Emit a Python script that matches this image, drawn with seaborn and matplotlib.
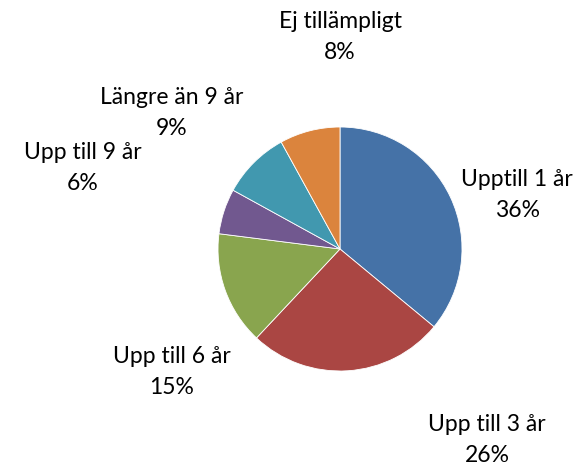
import numpy as np
import matplotlib
matplotlib.use("Agg")
import matplotlib.pyplot as plt
import seaborn as sns

# Data
categories = ['Upptill 1 år', 'Upp till 3 år', 'Upp till 6 år',
              'Upp till 9 år', 'Längre än 9 år', 'Ej tillämpligt']
shares = [36, 26, 15, 6, 9, 8]

# Layout (label anchors in pie-radius units, Excel-style manual placement)
label_xy = [(1.451, 0.443), (1.205, -1.566), (-1.377, -1.008),
            (-2.107, 0.664), (-1.377, 1.115), (0.0, 1.738)]
colors = ['#4572A7', '#AA4643', '#89A54E', '#71588F', '#4198AF', '#DB843D']

sns.set_theme(style='white')
plt.rcParams['font.family'] = ['Lato', 'DejaVu Sans']

fig = plt.figure(figsize=(5.8, 4.67), dpi=100)
ax = fig.add_axes([0, 0, 1, 1])

wedges, texts = ax.pie(shares, labels=categories, colors=colors,
                       startangle=90, counterclock=False, radius=1.0,
                       wedgeprops=dict(edgecolor='white', linewidth=0.6),
                       textprops=dict(fontsize=16.5, color='black'))

total = sum(shares)
for t, name, val, xy in zip(texts, categories, shares, label_xy):
    t.set_text(f'{name}\n{round(100 * val / total)}%')
    t.set_position(xy)
    t.set_ha('center')
    t.set_va('center')
    t.set_multialignment('center')
    t.set_linespacing(1.55)

r_px = 122
ax.set_xlim(-340 / r_px, 240 / r_px)
ax.set_ylim(-(467 - 249) / r_px, 249 / r_px)
ax.set_aspect('equal')
ax.axis('off')

fig.savefig('out.png', dpi=100)
